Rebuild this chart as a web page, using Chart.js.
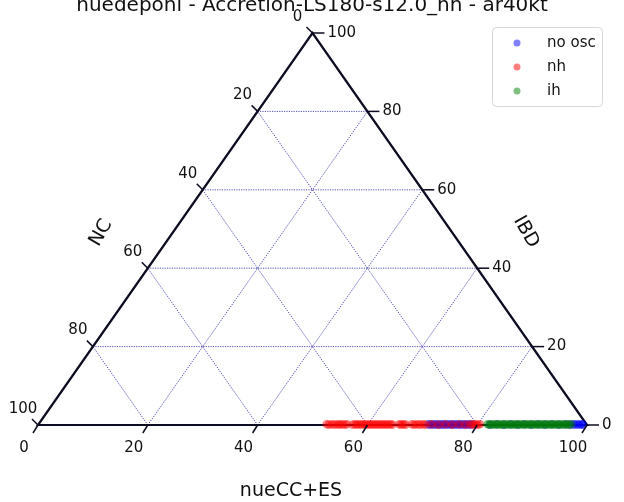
<!DOCTYPE html>
<html>
<head>
<meta charset="utf-8">
<script src="https://cdn.jsdelivr.net/npm/chart.js@4.4.1/dist/chart.umd.min.js"></script>
<style>
  body { margin: 0; background: #fff; }
</style>
</head>
<body>
<canvas id="ternary" width="624" height="502"></canvas>
<script>
// ternary points in percent: [nueCC+ES, IBD], NC is what is left to 100
const noOscPoints = [
  [71.0, 0.2], [71.4, 0.1], [71.8, 0.2], [72.2, 0.1], [72.6, 0.2], [73.0, 0.1], [73.4, 0.2], [73.8, 0.1],
  [74.2, 0.2], [74.6, 0.1], [75.0, 0.2], [75.4, 0.1], [75.8, 0.2], [76.2, 0.1], [76.6, 0.2], [77.0, 0.1],
  [77.4, 0.2], [77.8, 0.1], [78.2, 0.2], [78.6, 0.1], [79.0, 0.2], [82.3, 0.1], [83.5, 0.2], [84.8, 0.1],
  [86.0, 0.2], [87.3, 0.1], [88.5, 0.2], [89.8, 0.1], [91.0, 0.2], [92.3, 0.1], [93.5, 0.2], [94.8, 0.1],
  [96.0, 0.2], [96.9, 0.1], [97.4, 0.2], [97.8, 0.1], [98.2, 0.2], [98.6, 0.1], [99.0, 0.2], [99.2, 0.1]
];
const nhPoints = [
  [52.5, 0.2], [53.0, 0.1], [53.5, 0.2], [54.0, 0.1], [54.5, 0.2], [54.9, 0.1], [55.3, 0.2], [55.8, 0.1],
  [56.2, 0.2], [57.3, 0.1], [57.7, 0.2], [58.1, 0.1], [58.5, 0.2], [58.9, 0.1], [59.3, 0.2], [59.7, 0.1],
  [60.1, 0.2], [60.5, 0.1], [60.9, 0.2], [61.3, 0.1], [61.7, 0.2], [62.1, 0.1], [62.5, 0.2], [62.9, 0.1],
  [63.3, 0.2], [63.7, 0.1], [64.1, 0.2], [64.5, 0.1], [65.7, 0.2], [66.1, 0.1], [66.5, 0.2], [66.9, 0.1],
  [68.0, 0.2], [68.5, 0.1], [69.0, 0.2], [69.5, 0.1], [70.0, 0.2], [70.5, 0.1], [71.6, 0.2], [72.9, 0.1],
  [74.1, 0.2], [75.4, 0.1], [76.6, 0.2], [77.8, 0.1], [78.7, 0.2], [79.2, 0.1], [79.6, 0.2], [80.0, 0.1],
  [80.4, 0.2]
];
const ihPoints = [
  [81.8, 0.2], [82.2, 0.1], [82.6, 0.2], [83.0, 0.1], [83.4, 0.2], [83.8, 0.1], [84.2, 0.2], [84.6, 0.1],
  [85.0, 0.2], [85.4, 0.1], [85.8, 0.2], [86.2, 0.1], [86.6, 0.2], [87.0, 0.1], [87.4, 0.2], [87.8, 0.1],
  [88.2, 0.2], [88.6, 0.1], [89.0, 0.2], [89.4, 0.1], [89.8, 0.2], [90.2, 0.1], [90.6, 0.2], [91.0, 0.1],
  [91.4, 0.2], [91.8, 0.1], [92.2, 0.2], [92.6, 0.1], [93.0, 0.2], [93.4, 0.1], [93.8, 0.2], [94.2, 0.1],
  [94.6, 0.2], [95.0, 0.1], [95.4, 0.2], [95.8, 0.1], [96.2, 0.2], [96.6, 0.1], [97.0, 0.2]
];
const seriesNames = ["no osc", "nh", "ih"];
const seriesColors = ["rgba(0,0,255,0.5)", "rgba(255,0,0,0.5)", "rgba(0,128,0,0.5)"];
const gridSteps = [20, 40, 60, 80];
const tickValues = [0, 20, 40, 60, 80, 100];
const axisNames = { bottom: "nueCC+ES", left: "NC", right: "IBD" };
const titleText = "nuedeponi - Accretion-LS180-s12.0_nh - ar40kt";

const FONT = "DejaVu Sans, sans-serif";

// ternary -> cartesian: x = a + c/2, y = c
function toXY(p) {
  return { x: p[0] + p[1] / 2, y: p[1] };
}

const ternaryFrame = {
  id: "ternaryFrame",
  beforeDatasetsDraw(chart) {
    const ctx = chart.ctx, xs = chart.scales.x, ys = chart.scales.y;
    const px = (a, c) => [xs.getPixelForValue(a + c / 2), ys.getPixelForValue(c)];
    const seg = (p, q) => { ctx.beginPath(); ctx.moveTo(p[0], p[1]); ctx.lineTo(q[0], q[1]); ctx.stroke(); };
    ctx.save();
    // grid
    ctx.strokeStyle = "rgb(0,0,150)";
    ctx.lineWidth = 0.7;
    ctx.setLineDash([1.2, 1.2]);
    gridSteps.forEach(v => {
      seg(px(0, v), px(100 - v, v));
      seg(px(v, 0), px(v, 100 - v));
      seg(px(v, 0), px(0, v));
    });
    ctx.setLineDash([]);
    // triangle
    ctx.strokeStyle = "#0c0c22";
    ctx.lineWidth = 2.2;
    const A = px(0, 0), B = px(100, 0), C = px(0, 100);
    ctx.beginPath();
    ctx.moveTo(A[0], A[1]); ctx.lineTo(B[0], B[1]); ctx.lineTo(C[0], C[1]); ctx.closePath();
    ctx.stroke();
    ctx.restore();
  },
  afterDatasetsDraw(chart) {
    const ctx = chart.ctx, xs = chart.scales.x, ys = chart.scales.y;
    const px = (a, c) => [xs.getPixelForValue(a + c / 2), ys.getPixelForValue(c)];
    ctx.save();
    ctx.strokeStyle = "#0c0c22";
    ctx.lineWidth = 1.5;
    ctx.fillStyle = "#111";
    ctx.font = "15px " + FONT;
    ctx.textBaseline = "middle";
    tickValues.forEach(v => {
      // bottom axis
      let p = px(v, 0);
      ctx.beginPath(); ctx.moveTo(p[0], p[1]); ctx.lineTo(p[0] - 5, p[1] + 8); ctx.stroke();
      ctx.textAlign = "center";
      ctx.fillText(String(v), p[0] - 14, p[1] + 23);
      // right axis
      p = px(100 - v, v);
      ctx.beginPath(); ctx.moveTo(p[0], p[1]); ctx.lineTo(p[0] + 12, p[1]); ctx.stroke();
      ctx.textAlign = "left";
      ctx.fillText(String(v), p[0] + 15, p[1]);
      // left axis
      p = px(0, 100 - v);
      ctx.beginPath(); ctx.moveTo(p[0], p[1]); ctx.lineTo(p[0] - 6, p[1] - 6); ctx.stroke();
      ctx.textAlign = "center";
      ctx.fillText(String(v), p[0] - 15, p[1] - 16);
    });

    // axis names
    ctx.font = "19px " + FONT;
    ctx.textAlign = "center";
    ctx.fillText(axisNames.bottom, 291, 491);
    ctx.save();
    ctx.translate(101, 233);
    ctx.rotate(-Math.PI / 3);
    ctx.fillText(axisNames.left, 0, 0);
    ctx.restore();
    ctx.save();
    ctx.translate(526, 232);
    ctx.rotate(Math.PI / 3);
    ctx.fillText(axisNames.right, 0, 0);
    ctx.restore();

    // title, sits against the top edge
    ctx.font = "20px " + FONT;
    ctx.textBaseline = "alphabetic";
    ctx.fillText(titleText, 312, 11);

    // legend
    ctx.beginPath();
    ctx.roundRect(492.5, 27.5, 110, 79, 4);
    ctx.fillStyle = "rgba(255,255,255,0.8)";
    ctx.fill();
    ctx.strokeStyle = "#d6d6d6";
    ctx.lineWidth = 1;
    ctx.stroke();
    ctx.font = "15px " + FONT;
    ctx.textAlign = "left";
    ctx.textBaseline = "middle";
    chart.data.datasets.forEach((ds, i) => {
      const y = 43 + i * 24;
      ctx.beginPath();
      ctx.arc(517, y, 3.5, 0, Math.PI * 2);
      ctx.fillStyle = ds.backgroundColor;
      ctx.fill();
      ctx.fillStyle = "#111";
      ctx.fillText(ds.label, 547, y);
    });
    ctx.restore();
  }
};

new Chart(document.getElementById("ternary"), {
  type: "scatter",
  data: {
    datasets: [noOscPoints, nhPoints, ihPoints].map((pts, i) => ({
      label: seriesNames[i],
      data: pts.map(toXY),
      backgroundColor: seriesColors[i],
      borderWidth: 0,
      pointRadius: 4.3,
      order: 3 - i,
      clip: false
    }))
  },
  options: {
    responsive: false,
    devicePixelRatio: 1,
    animation: false,
    layout: { padding: { left: 38, right: 37, top: 33, bottom: 77 } },
    scales: {
      x: { type: "linear", min: 0, max: 100, display: false },
      y: { type: "linear", min: 0, max: 100, display: false }
    },
    plugins: {
      legend: { display: false },
      tooltip: { enabled: false }
    }
  },
  plugins: [ternaryFrame]
});
</script>
</body>
</html>
